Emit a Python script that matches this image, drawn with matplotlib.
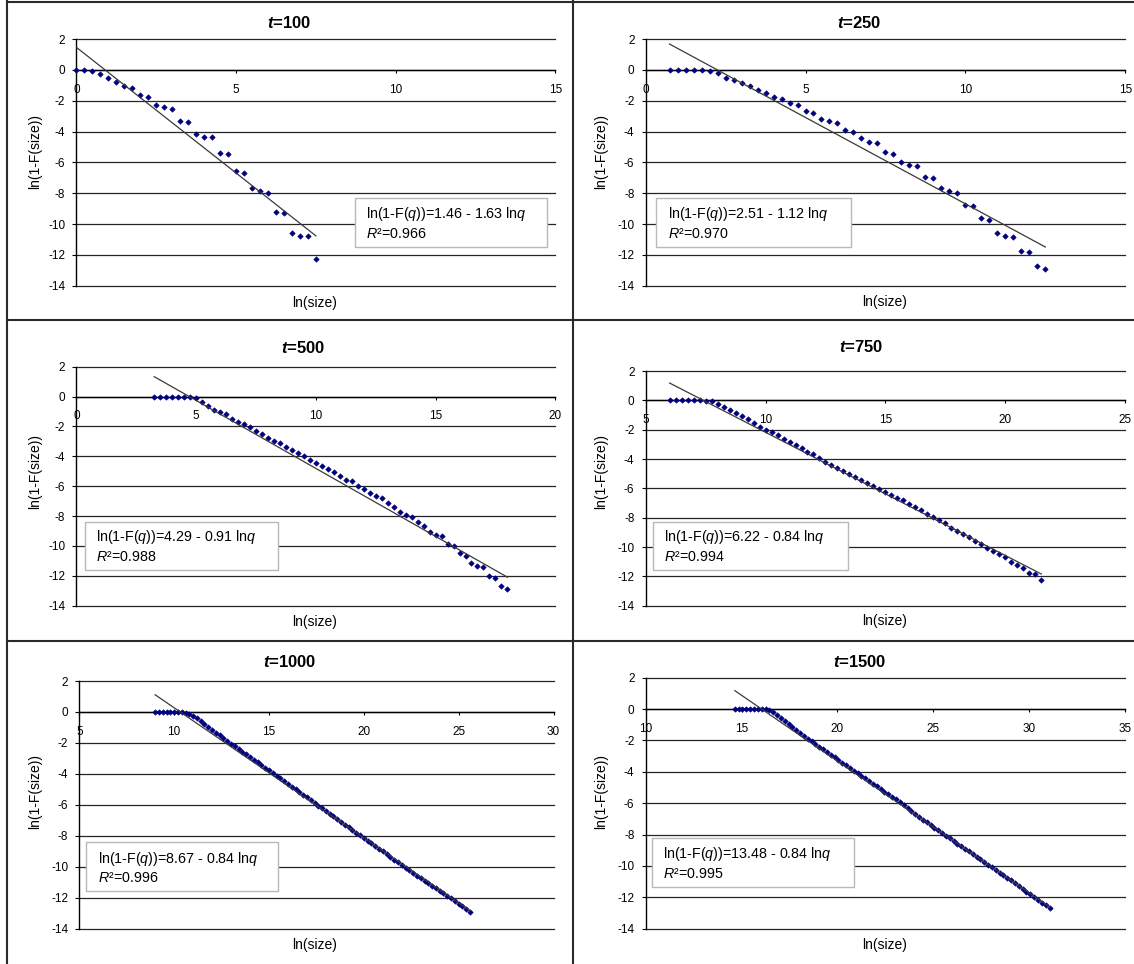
import matplotlib
matplotlib.use("Agg")
import matplotlib.pyplot as plt
from matplotlib.lines import Line2D
from matplotlib.patches import Rectangle

plt.rcParams['font.family'] = ['Liberation Sans', 'DejaVu Sans']
plt.rcParams['axes.unicode_minus'] = False
plt.rcParams['mathtext.fontset'] = 'custom'
plt.rcParams['mathtext.rm'] = 'Liberation Sans'
plt.rcParams['mathtext.it'] = 'Liberation Sans:italic'
plt.rcParams['mathtext.bf'] = 'Liberation Sans:bold'
try:
    plt.rcParams['mathtext.bfit'] = 'Liberation Sans:italic:bold'
except KeyError:
    pass

# ---------------- data ----------------
titles = ["100", "250", "500", "750", "1000", "1500"]
intercepts = [1.46, 2.51, 4.29, 6.22, 8.67, 13.48]
slopes = [1.63, 1.12, 0.91, 0.84, 0.84, 0.84]
r2_values = ["0.966", "0.970", "0.988", "0.994", "0.996", "0.995"]
x_limits = [(0, 15), (0, 15), (0, 20), (5, 25), (5, 30), (10, 35)]
y_ticks = [2, 0, -2, -4, -6, -8, -10, -12, -14]

x_t100 = [0, 0.25, 0.5, 0.75, 1.0, 1.25, 1.5, 1.75, 2.0, 2.25, 2.5, 2.75, 3.0, 3.25,
          3.5, 3.75, 4.0, 4.25, 4.5, 4.75, 5.0, 5.25, 5.5, 5.75, 6.0, 6.25, 6.5, 6.75,
          7.0, 7.25, 7.5]
y_t100 = [0, 0, -0.06, -0.3, -0.52, -0.78, -1.02, -1.17, -1.6, -1.73, -2.29, -2.44,
          -2.51, -3.31, -3.37, -4.15, -4.37, -4.37, -5.38, -5.45, -6.53, -6.68, -7.68,
          -7.89, -7.96, -9.23, -9.3, -10.55, -10.77, -10.77, -12.26]

x_t250 = [0.75, 1.0, 1.25, 1.5, 1.75, 2.0, 2.25, 2.5, 2.75, 3.0, 3.25, 3.5, 3.75, 4.0,
          4.25, 4.5, 4.75, 5.0, 5.25, 5.5, 5.75, 6.0, 6.25, 6.5, 6.75, 7.0, 7.25, 7.5,
          7.75, 8.0, 8.25, 8.5, 8.75, 9.0, 9.25, 9.5, 9.75, 10.0, 10.25, 10.5, 10.75,
          11.0, 11.25, 11.5, 11.75, 12.0, 12.25, 12.5]
y_t250 = [0, 0, 0, 0, 0, -0.06, -0.22, -0.52, -0.65, -0.86, -1.08, -1.3, -1.51, -1.73,
          -1.88, -2.16, -2.31, -2.66, -2.81, -3.16, -3.31, -3.46, -3.87, -4.02, -4.45,
          -4.67, -4.76, -5.32, -5.47, -5.97, -6.18, -6.25, -6.96, -7.03, -7.68, -7.89,
          -7.96, -8.78, -8.84, -9.62, -9.75, -10.55, -10.77, -10.83, -11.76, -11.83,
          -12.69, -12.91]

x_t500 = [3.25, 3.5, 3.75, 4.0, 4.25, 4.5, 4.75, 5.0, 5.25, 5.5, 5.75, 6.0, 6.25, 6.5,
          6.75, 7.0, 7.25, 7.5, 7.75, 8.0, 8.25, 8.5, 8.75, 9.0, 9.25, 9.5, 9.75, 10.0,
          10.25, 10.5, 10.75, 11.0, 11.25, 11.5, 11.75, 12.0, 12.25, 12.5, 12.75, 13.0,
          13.25, 13.5, 13.75, 14.0, 14.25, 14.5, 14.75, 15.0, 15.25, 15.5, 15.75, 16.0,
          16.25, 16.5, 16.75, 17.0, 17.25, 17.5, 17.75, 18.0]
y_t500 = [0, 0, 0, 0, 0, 0, -0.02, -0.12, -0.38, -0.6, -0.87, -1.05, -1.2, -1.47, -1.67,
          -1.85, -2.05, -2.32, -2.5, -2.79, -2.96, -3.1, -3.39, -3.59, -3.79, -3.97,
          -4.26, -4.42, -4.66, -4.88, -5.06, -5.33, -5.57, -5.66, -6.0, -6.2, -6.46,
          -6.66, -6.82, -7.15, -7.42, -7.76, -7.93, -8.05, -8.38, -8.67, -9.05, -9.27,
          -9.34, -9.9, -10.0, -10.45, -10.65, -11.12, -11.32, -11.39, -12.01, -12.15,
          -12.68, -12.9]

x_t750 = [6.0, 6.25, 6.5, 6.75, 7.0, 7.25, 7.5, 7.75, 8.0, 8.25, 8.5, 8.75, 9.0, 9.25,
          9.5, 9.75, 10.0, 10.25, 10.5, 10.75, 11.0, 11.25, 11.5, 11.75, 12.0, 12.25,
          12.5, 12.75, 13.0, 13.25, 13.5, 13.75, 14.0, 14.25, 14.5, 14.75, 15.0, 15.25,
          15.5, 15.75, 16.0, 16.25, 16.5, 16.75, 17.0, 17.25, 17.5, 17.75, 18.0, 18.25,
          18.5, 18.75, 19.0, 19.25, 19.5, 19.75, 20.0, 20.25, 20.5, 20.75, 21.0, 21.25,
          21.5]
y_t750 = [0, 0, 0, 0, 0, 0, -0.05, -0.07, -0.23, -0.48, -0.68, -0.84, -1.07, -1.3, -1.52,
          -1.8, -2.0, -2.18, -2.39, -2.61, -2.84, -3.07, -3.25, -3.52, -3.68, -3.93, -4.2,
          -4.43, -4.61, -4.84, -5.02, -5.2, -5.41, -5.61, -5.86, -6.05, -6.23, -6.48,
          -6.66, -6.82, -7.07, -7.3, -7.48, -7.73, -7.95, -8.16, -8.39, -8.7, -8.91,
          -9.09, -9.34, -9.57, -9.82, -10.05, -10.25, -10.48, -10.7, -11.02, -11.2,
          -11.43, -11.77, -11.84, -12.27]

x_t1000 = [9.0, 9.2, 9.4, 9.6, 9.8, 10.0, 10.2, 10.4, 10.6, 10.8, 11.0, 11.2, 11.4, 11.6,
           11.8, 12.0, 12.2, 12.4, 12.6, 12.8, 13.0, 13.2, 13.4, 13.6, 13.8, 14.0, 14.2,
           14.4, 14.6, 14.8, 15.0, 15.2, 15.4, 15.6, 15.8, 16.0, 16.2, 16.4, 16.6, 16.8,
           17.0, 17.2, 17.4, 17.6, 17.8, 18.0, 18.2, 18.4, 18.6, 18.8, 19.0, 19.2, 19.4,
           19.6, 19.8, 20.0, 20.2, 20.4, 20.6, 20.8, 21.0, 21.2, 21.4, 21.6, 21.8, 22.0,
           22.2, 22.4, 22.6, 22.8, 23.0, 23.2, 23.4, 23.6, 23.8, 24.0, 24.2, 24.4, 24.6,
           24.8, 25.0, 25.2, 25.4, 25.6]
y_t1000 = [0, 0, 0, 0, 0, 0, 0, 0, -0.04, -0.12, -0.25, -0.42, -0.6, -0.78, -0.97, -1.15,
           -1.33, -1.52, -1.7, -1.88, -2.05, -2.23, -2.4, -2.57, -2.74, -2.92, -3.09,
           -3.26, -3.43, -3.6, -3.78, -3.95, -4.12, -4.29, -4.47, -4.65, -4.82, -4.99,
           -5.17, -5.34, -5.52, -5.7, -5.87, -6.05, -6.22, -6.4, -6.57, -6.75, -6.92,
           -7.1, -7.27, -7.45, -7.62, -7.8, -7.97, -8.14, -8.31, -8.49, -8.66, -8.84,
           -9.01, -9.19, -9.36, -9.54, -9.71, -9.89, -10.06, -10.23, -10.4, -10.57,
           -10.74, -10.9, -11.07, -11.23, -11.4, -11.56, -11.72, -11.88, -12.04, -12.21,
           -12.38, -12.55, -12.72, -12.9]

x_t1500 = [14.65, 14.85, 15.05, 15.25, 15.45, 15.65, 15.85, 16.05, 16.25, 16.45, 16.65,
           16.85, 17.05, 17.25, 17.45, 17.65, 17.85, 18.05, 18.25, 18.45, 18.65, 18.85,
           19.05, 19.25, 19.45, 19.65, 19.85, 20.05, 20.25, 20.45, 20.65, 20.85, 21.05,
           21.25, 21.45, 21.65, 21.85, 22.05, 22.25, 22.45, 22.65, 22.85, 23.05, 23.25,
           23.45, 23.65, 23.85, 24.05, 24.25, 24.45, 24.65, 24.85, 25.05, 25.25, 25.45,
           25.65, 25.85, 26.05, 26.25, 26.45, 26.65, 26.85, 27.05, 27.25, 27.45, 27.65,
           27.85, 28.05, 28.25, 28.45, 28.65, 28.85, 29.05, 29.25, 29.45, 29.65, 29.85,
           30.05, 30.25, 30.45, 30.65, 30.85, 31.05]
y_t1500 = [0, 0, 0, 0, 0, 0, 0, 0, -0.02, -0.09, -0.21, -0.37, -0.56, -0.75, -0.94, -1.13,
           -1.31, -1.5, -1.69, -1.88, -2.06, -2.23, -2.4, -2.57, -2.74, -2.92, -3.08,
           -3.25, -3.42, -3.59, -3.76, -3.92, -4.09, -4.26, -4.42, -4.59, -4.75, -4.92,
           -5.09, -5.26, -5.43, -5.59, -5.76, -5.95, -6.14, -6.33, -6.5, -6.68, -6.86,
           -7.04, -7.21, -7.38, -7.55, -7.73, -7.9, -8.07, -8.23, -8.4, -8.57, -8.74,
           -8.91, -9.07, -9.24, -9.41, -9.58, -9.75, -9.91, -10.08, -10.25, -10.42,
           -10.59, -10.75, -10.92, -11.1, -11.28, -11.46, -11.63, -11.81, -11.99, -12.17,
           -12.35, -12.52, -12.7]

series_x = [x_t100, x_t250, x_t500, x_t750, x_t1000, x_t1500]
series_y = [y_t100, y_t250, y_t500, y_t750, y_t1000, y_t1500]

# ---------------- layout (pixels) ----------------
W, H = 1134, 964
def fx(px):
    return px / W
def fy(py):
    return 1 - py / H

# axes: left, right, top, bottom (pixel coords)
axes_px = [(76.4, 555.3, 39.0, 285.7), (645.6, 1125.3, 39.0, 285.7),
           (76.4, 555.3, 366.7, 605.7), (645.6, 1125.3, 371.0, 605.7),
           (79.3, 553.5, 681.0, 928.7), (645.6, 1125.3, 677.7, 928.7)]
title_px = [(289, 22.7), (859, 22.7), (303.6, 348.3), (861, 347.3), (289.8, 661.7), (859.5, 661.7)]
xlabel_px = [(314.5, 302.7), (884.5, 301.7), (315, 622.3), (884.5, 621), (315, 945), (884.5, 945)]
ylabel_px = [(35.3, 151.7), (601, 151.7), (35.3, 471.7), (601, 471.7), (35.3, 791.7), (601, 791.7)]
# box: left, right, top, bottom ; text left, line1 y, line2 y
box_px = [(354.5, 547.3, 198.3, 247.3, 365.5, 214.3, 234.3),
          (656.2, 850.7, 198.3, 247.3, 667.5, 214.3, 234.3),
          (84.7, 277.5, 521.7, 570.0, 95.6, 537.3, 557.3),
          (652.9, 847.5, 521.7, 570.0, 663.8, 537.3, 557.3),
          (86.2, 278.2, 842.3, 890.7, 97.5, 858.7, 878.0),
          (651.5, 853.6, 838.3, 886.7, 662.7, 854.0, 874.0)]

fig = plt.figure(figsize=(W / 100, H / 100), dpi=100)
fig.patch.set_facecolor('white')

grid_col = '#262626'
for i in range(6):
    l, r, t, b = axes_px[i]
    ax = fig.add_axes([fx(l), fy(b), (r - l) / W, (b - t) / H])
    ax.set_facecolor('white')
    xs, ys = series_x[i], series_y[i]
    ax.plot(xs, ys, linestyle='none', marker='D', markersize=2.8,
            markerfacecolor='#000080', markeredgecolor='#000080',
            markeredgewidth=0.4, zorder=3, clip_on=False)
    x0, x1 = min(xs), max(xs)
    ax.plot([x0, x1], [intercepts[i] - slopes[i] * x0, intercepts[i] - slopes[i] * x1],
            color='#3a3a3a', linewidth=0.9, zorder=4)
    ax.set_xlim(*x_limits[i])
    ax.set_ylim(-14, 2)
    lo, hi = x_limits[i]
    ax.set_xticks(list(range(lo, hi + 1, 5)))
    ax.set_yticks(y_ticks)
    ax.set_yticklabels([str(v) for v in y_ticks])
    for v in y_ticks:
        ax.axhline(v, color=grid_col, linewidth=0.9, zorder=1, clip_on=False)
    for s in ['top', 'right']:
        ax.spines[s].set_visible(False)
    ax.spines['left'].set_color('black')
    ax.spines['left'].set_linewidth(1.0)
    ax.spines['bottom'].set_position(('data', 0))
    ax.spines['bottom'].set_color('black')
    ax.spines['bottom'].set_linewidth(1.0)
    ax.tick_params(axis='y', direction='out', length=3, width=0.8, pad=5.0,
                   labelsize=8.5, colors='black')
    ax.tick_params(axis='x', direction='out', length=2.2, width=0.8, pad=7.8,
                   labelsize=8.5, colors='black')

    fig.text(fx(title_px[i][0]), fy(title_px[i][1]), r"$\mathbfit{t}$=" + titles[i],
             ha='center', va='center', fontsize=12, fontweight='bold')
    fig.text(fx(xlabel_px[i][0]), fy(xlabel_px[i][1]), "ln(size)",
             ha='center', va='center', fontsize=10)
    fig.text(fx(ylabel_px[i][0]), fy(ylabel_px[i][1]), "ln(1-F(size))",
             ha='center', va='center', fontsize=10, rotation=90)

    bl, br, bt, bb, tx, ty1, ty2 = box_px[i]
    fig.add_artist(Rectangle((fx(bl), fy(bb)), (br - bl) / W, (bb - bt) / H,
                             transform=fig.transFigure, facecolor='white',
                             edgecolor='#b8b8b8', linewidth=1.0, zorder=5))
    eq = "ln(1-F($q$))=%.2f - %.2f ln$q$" % (intercepts[i], slopes[i])
    fig.text(fx(tx), fy(ty1), eq, ha='left', va='center', fontsize=10.3, zorder=6)
    fig.text(fx(tx), fy(ty2), "$R$²=" + r2_values[i], ha='left', va='center',
             fontsize=10.3, zorder=6)

# panel separator lines
sep = '#2a2a2a'
fig.add_artist(Line2D([fx(7), fx(7)], [0, 1], transform=fig.transFigure, color=sep, lw=1.5))
fig.add_artist(Line2D([fx(572.5), fx(572.5)], [0, 1], transform=fig.transFigure, color=sep, lw=1.5))
fig.add_artist(Line2D([fx(7), 1], [fy(1.5), fy(1.5)], transform=fig.transFigure, color=sep, lw=1.5))
fig.add_artist(Line2D([fx(7), 1], [fy(320.5), fy(320.5)], transform=fig.transFigure, color=sep, lw=1.5))
fig.add_artist(Line2D([fx(7), 1], [fy(640.5), fy(640.5)], transform=fig.transFigure, color=sep, lw=1.5))

fig.savefig("out.png", dpi=100, facecolor='white')
